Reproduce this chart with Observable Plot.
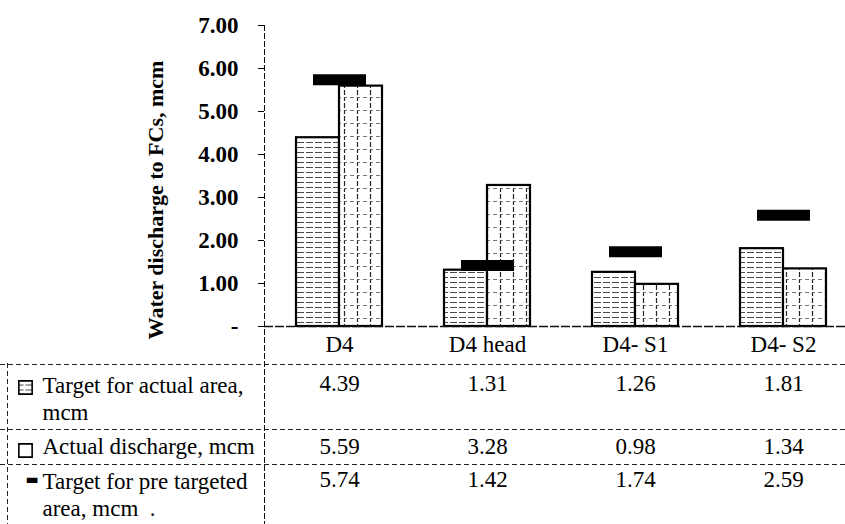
<!DOCTYPE html>
<html>
<head>
<meta charset="utf-8">
<script src="https://cdn.jsdelivr.net/npm/d3@7"></script>
<script src="https://cdn.jsdelivr.net/npm/@observablehq/plot@0.6"></script>
<style>
  html, body { margin: 0; padding: 0; background: #fff; }
  #chart svg { display: block; }
</style>
</head>
<body>
<div id="chart"></div>
<script>
// ---- data ----
const categories = ["D4", "D4 head", "D4- S1", "D4- S2"];
const targetActual = [4.39, 1.31, 1.26, 1.81];
const actualDischarge = [5.59, 3.28, 0.98, 1.34];
const targetPre = [5.74, 1.42, 1.74, 2.59];
const seriesLabels = ["Target for actual area,\nmcm", "Actual discharge, mcm", "Target for pre targeted\narea, mcm  ."];
const yTicks = [0, 1, 2, 3, 4, 5, 6, 7];
const yLabel = "Water discharge to FCs, mcm";

const rows = categories.map((c, i) => ({
  cat: c, targetActual: targetActual[i], actualDischarge: actualDischarge[i], targetPre: targetPre[i]
}));

const W = 845, H = 524, ML = 264, MT = 25, MB = 198;
const FONT = 23;
const FF = "Liberation Serif";
const dash = "5,3";
const rowDy = [48, 111, 144];

const chart = Plot.plot({
  width: W,
  height: H,
  marginLeft: ML,
  marginRight: 0,
  marginTop: MT,
  marginBottom: MB,
  style: { fontFamily: FF, background: "white", color: "black" },
  x: { type: "band", domain: categories, range: [264, 857], padding: 0 },
  y: { domain: [0, 7] },
  marks: [
    // bars
    Plot.barY(rows, { x: "cat", y: "targetActual", insetLeft: 31, insetRight: 74,
      fill: "url(#hatchH)", stroke: "black", strokeWidth: 2.2 }),
    Plot.barY(rows, { x: "cat", y: "actualDischarge", insetLeft: 74, insetRight: 31,
      fill: "url(#hatchGrid)", stroke: "black", strokeWidth: 2.2 }),
    Plot.tickY(rows, { x: "cat", y: "targetPre", insetLeft: 48, insetRight: 47,
      stroke: "black", strokeWidth: 11 }),
    // axes
    Plot.axisY({ ticks: yTicks, tickFormat: d => d === 0 ? "-" : d.toFixed(2),
      tickSize: 6, tickPadding: 20, fontSize: FONT, fontWeight: "bold", fontFamily: FF, label: null }),
    Plot.axisX({ tickSize: 0, tickPadding: 9, fontSize: FONT, fontFamily: FF, label: null }),
    Plot.frame({ anchor: "left", insetBottom: -MB, stroke: "#111", strokeDasharray: dash }),
    Plot.ruleY([0], { stroke: "#111", strokeWidth: 1.5, strokeDasharray: "9,2" }),
    Plot.text([yLabel], { frameAnchor: "left", textAnchor: "middle", rotate: -90, dx: -109, dy: 24,
      fontSize: 22, fontWeight: "bold", fontFamily: FF }),
    // table rules
    Plot.ruleY([0], { dy: 38, insetLeft: -ML, stroke: "#222", strokeDasharray: dash }),
    Plot.ruleY([0], { dy: 103, insetLeft: -ML, stroke: "#222", strokeDasharray: dash }),
    Plot.ruleY([0], { dy: 138, insetLeft: -ML, stroke: "#222", strokeDasharray: dash }),
    Plot.frame({ anchor: "left", insetLeft: -257, insetTop: 338, insetBottom: -MB, stroke: "#222", strokeDasharray: "4,4" }),
    // table values
    Plot.text(rows, { x: "cat", text: d => d.targetActual.toFixed(2), frameAnchor: "bottom", lineAnchor: "top", dy: rowDy[0], fontSize: FONT, fontFamily: FF }),
    Plot.text(rows, { x: "cat", text: d => d.actualDischarge.toFixed(2), frameAnchor: "bottom", lineAnchor: "top", dy: rowDy[1], fontSize: FONT, fontFamily: FF }),
    Plot.text(rows, { x: "cat", text: d => d.targetPre.toFixed(2), frameAnchor: "bottom", lineAnchor: "top", dy: rowDy[2], fontSize: FONT, fontFamily: FF }),
    // row labels
    Plot.text([seriesLabels[0]], { frameAnchor: "bottom-left", textAnchor: "start", lineAnchor: "top",
      dx: -222, dy: rowDy[0], fontSize: FONT, lineHeight: 1.15, fontFamily: FF }),
    Plot.text([seriesLabels[1]], { frameAnchor: "bottom-left", textAnchor: "start", lineAnchor: "top",
      dx: -222, dy: rowDy[1], fontSize: FONT, fontFamily: FF }),
    Plot.text([seriesLabels[2]], { frameAnchor: "bottom-left", textAnchor: "start", lineAnchor: "top",
      dx: -222, dy: rowDy[2], fontSize: FONT, lineHeight: 1.15, fontFamily: FF }),
    // swatches
    Plot.dot([seriesLabels[0]], { frameAnchor: "bottom-left", dx: -239, dy: 61, symbol: "square", r: 7.5,
      fill: "url(#hatchH)", stroke: "black", strokeWidth: 1.6 }),
    Plot.dot([seriesLabels[1]], { frameAnchor: "bottom-left", dx: -239, dy: 124, symbol: "square", r: 7.5,
      fill: "white", stroke: "black", strokeWidth: 1.6 }),
    Plot.text([seriesLabels[2]], { frameAnchor: "bottom-left", text: () => "▬", dx: -239, dy: 157,
      fontSize: 14, fontFamily: "DejaVu Sans" })
  ]
});

const defs = `<defs>
  <pattern id="hatchH" width="9" height="5" patternUnits="userSpaceOnUse">
    <rect width="9" height="5" fill="white"/>
    <line x1="0" y1="2.5" x2="7" y2="2.5" stroke="#333" stroke-width="0.9"/>
  </pattern>
  <pattern id="hatchGrid" width="13" height="13" patternUnits="userSpaceOnUse">
    <rect width="13" height="13" fill="white"/>
    <line x1="6.5" y1="0" x2="6.5" y2="13" stroke="#222" stroke-width="1.2" stroke-dasharray="4,2"/>
    <line x1="0" y1="6.5" x2="13" y2="6.5" stroke="#555" stroke-width="0.8" stroke-dasharray="3,3"/>
  </pattern>
</defs>`;
chart.insertAdjacentHTML("afterbegin", defs);
document.getElementById("chart").appendChild(chart);
</script>
</body>
</html>
